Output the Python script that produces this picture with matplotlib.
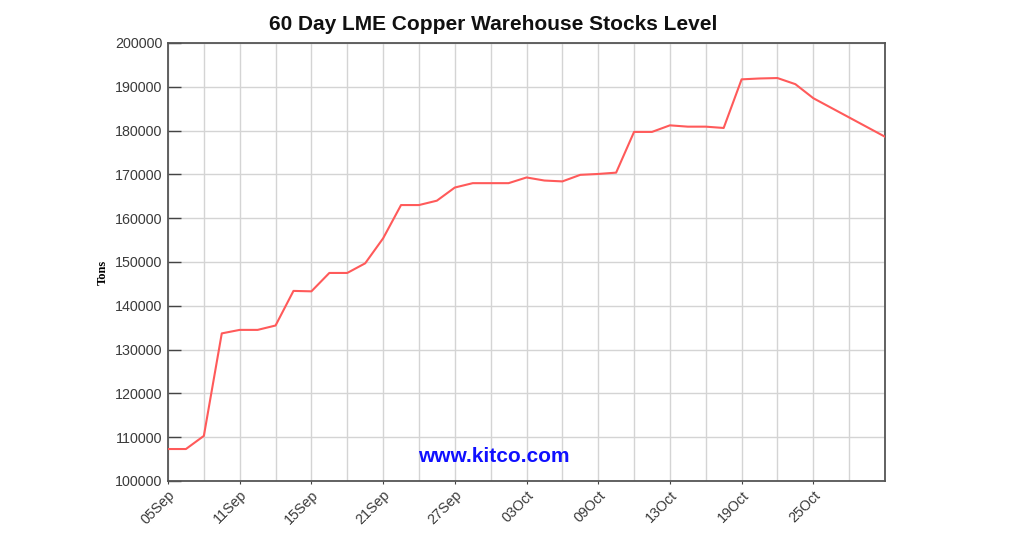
import matplotlib
matplotlib.use("Agg")
import matplotlib.pyplot as plt

# stock levels (tons), one value per trading day
stocks = [107300, 107300, 110300, 133700, 134500, 134500, 135500, 143400, 143300, 147500,
          147500, 149700, 155400, 163000, 163000, 164000, 167000, 168000, 168000, 168000,
          169300, 168600, 168400, 169900, 170100, 170400, 179700, 179700, 181200, 180900,
          180900, 180600, 191700, 191900, 192000, 190600, 187400, 185200, 183000, 180800,
          178600]
tick_labels = ["05Sep", "11Sep", "15Sep", "21Sep", "27Sep", "03Oct",
               "09Oct", "13Oct", "19Oct", "25Oct"]
label_every = 4

plt.rcParams['font.family'] = ['Liberation Sans', 'DejaVu Sans']

fig = plt.figure(figsize=(10.24, 5.39), dpi=100)
ax = fig.add_axes([168 / 1024, 1 - 481 / 539, 717 / 1024, 438 / 539])

x = list(range(len(stocks)))
ax.plot(x, stocks, color='#ff5a5a', linewidth=1.5, zorder=3)

ax.set_xlim(0, len(stocks) - 1)
ax.set_ylim(100000, 200000)
ax.set_yticks(range(100000, 200001, 10000))
ax.tick_params(axis='y', direction='in', length=9, width=1, color='#444444',
               labelsize=10.3, labelcolor='#3a3a3a', pad=4)

# labels every 4 days, gridlines every 2
ax.set_xticks([i * label_every for i in range(len(tick_labels))])
ax.set_xticklabels(tick_labels, rotation=45, ha='right', va='top', rotation_mode='anchor')
ax.set_xticks(range(0, len(stocks), 2), minor=True)
ax.tick_params(axis='x', which='major', direction='out', length=2, width=0.8, color='#444444',
               labelsize=10.3, labelcolor='#3a3a3a', pad=3)
ax.tick_params(axis='x', which='minor', length=0)

ax.grid(True, which='both', axis='x', color='#d4d4d4', linewidth=1)
ax.grid(True, which='major', axis='y', color='#d4d4d4', linewidth=1)
ax.set_axisbelow(True)
for s in ax.spines.values():
    s.set_color('#555555')
    s.set_linewidth(1.3)

fig.text(493 / 1024, 1 - 25 / 539, '60 Day LME Copper Warehouse Stocks Level',
         ha='center', va='center', fontsize=15, fontweight='bold', color='#111111')
fig.text(103 / 1024, 1 - 272 / 539, 'Tons', rotation=90, ha='center', va='center',
         fontsize=9, fontweight='bold', family=['Liberation Serif', 'DejaVu Serif'])
fig.text(494 / 1024, 1 - 457 / 539, 'www.kitco.com', ha='center', va='center',
         fontsize=15, fontweight='bold', color='#1010ff')

fig.savefig('out.png', dpi=100)
